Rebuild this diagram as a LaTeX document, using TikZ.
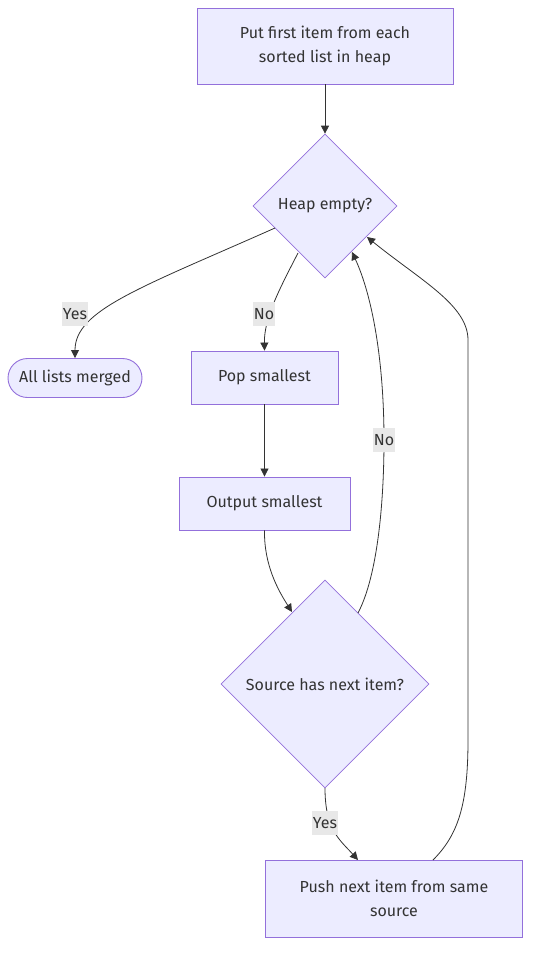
\documentclass[tikz,border=0pt]{standalone}
\usepackage{fontspec}
\setmainfont{Fira Sans}
\usetikzlibrary{shapes.geometric,arrows.meta}
\definecolor{nodefill}{HTML}{ECECFF}
\definecolor{nodeborder}{HTML}{9370DB}
\definecolor{edgecol}{HTML}{333333}
\definecolor{lblbg}{HTML}{E8E8E8}
\tikzset{
  base/.style={draw=nodeborder, fill=nodefill, text=edgecol, line width=0.9pt, inner sep=0pt, align=center, font=\fontsize{16}{24}\selectfont},
  procbox/.style={base, rectangle},
  termbox/.style={base, rounded corners=19.5pt},
  decision/.style={base, diamond, line width=0.7pt},
  edge/.style={draw=edgecol, line width=0.8pt, -{Triangle[length=8pt,width=8pt]}},
  lbl/.style={fill=lblbg, text=edgecol, inner xsep=0.5pt, inner ysep=0pt, minimum height=24pt, font=\fontsize{16}{18}\selectfont}
}
\begin{document}
\begin{tikzpicture}[x=1pt,y=-1pt]
\useasboundingbox (0,0) rectangle (538,959);
\node[procbox, minimum width=256pt, minimum height=76pt] (put) at (325,46) {Put first item from each\\sorted list in heap};
\node[decision, minimum width=144pt, minimum height=144pt] (heap) at (325,206) {Heap empty?};
\node[termbox, minimum width=134pt, minimum height=39pt] (merged) at (75,378) {All lists merged};
\node[procbox, minimum width=147pt, minimum height=53pt] (pop) at (264.5,377.5) {Pop smallest};
\node[procbox, minimum width=171pt, minimum height=53pt] (out) at (264.5,503.5) {Output smallest};
\node[decision, minimum width=208pt, minimum height=208pt] (src) at (325,684) {Source has next item?};
\node[procbox, minimum width=257pt, minimum height=77pt] (push) at (394,898.5) {Push next item from same\\source};

\coordinate (yesA) at (275,228);
\coordinate (noA) at (298,253);
\coordinate (noB) at (358,613);
\coordinate (yesB) at (325,788);
\coordinate (pushA) at (433,860);
\coordinate (heapIn1) at (352,252);
\coordinate (heapIn2) at (367,237);
\coordinate (srcIn) at (292,612);
\coordinate (pushIn) at (358,860);

\draw[edge] (put.south) -- (heap.north);
\draw[edge] (yesA) .. controls (140,288) and (75,310) .. (merged.north);
\draw[edge] (noA) .. controls (280,288) and (264,318) .. (pop.north);
\draw[edge] (pop.south) -- (out.north);
\draw[edge] (out.south) .. controls (264,565) and (278,590) .. (srcIn);
\draw[edge] (noB) .. controls (378,575) and (384,500) .. (384,440) .. controls (384,360) and (372,295) .. (heapIn1);
\draw[edge] (yesB) .. controls (325,830) and (340,840) .. (pushIn);
\draw[edge] (pushA) .. controls (458,835) and (468,805) .. (468,740) -- (468,340) .. controls (468,305) and (420,280) .. (heapIn2);

\node[lbl] (lyes1) at (75,314) {Yes};
\node[lbl] (lno1) at (264,314) {No};
\node[lbl] (lno2) at (384,440) {No};
\node[lbl] (lyes2) at (325,823) {Yes};
\end{tikzpicture}
\end{document}
